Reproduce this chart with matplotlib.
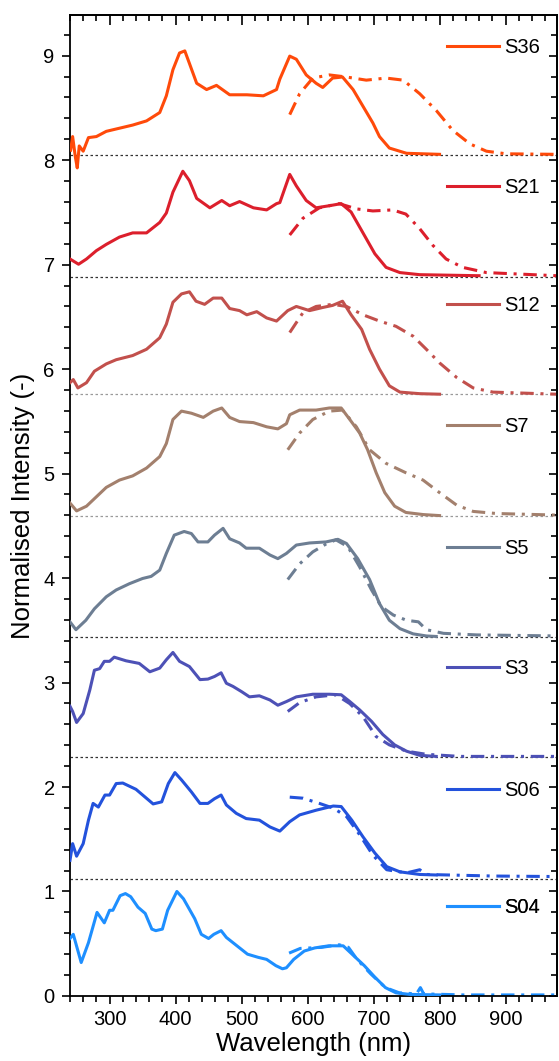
import numpy as np
import matplotlib
matplotlib.use("Agg")
import matplotlib.pyplot as plt
from matplotlib.ticker import MultipleLocator, NullFormatter
from matplotlib.lines import Line2D

plt.rcParams['font.family'] = ['Liberation Sans', 'DejaVu Sans']

names = ["S36", "S21", "S12", "S7", "S5", "S3", "S06", "S04"]
offsets = [8.046, 6.884, 5.76, 4.598, 3.436, 2.283, 1.118, 0.0]
colors = ["#ff4a0a", "#dc1f2c", "#c2504c", "#a3806d", "#6d7e93", "#4d51b6", "#2352dc", "#1e8fff"]

# solid spectra (normalised, before offset)
s36_x = [241, 244, 248, 251, 254, 260, 268, 280, 295, 315, 335, 356, 376, 386, 396, 406, 414, 421,
         432, 447, 462, 482, 508, 533, 553, 558, 573, 583, 598, 613, 623, 638, 653, 669, 684, 699,
         709, 724, 750, 775, 800]
s36_y = [0.05, 0.18, -0.01, -0.12, 0.09, 0.04, 0.17, 0.18, 0.23, 0.26, 0.29, 0.33, 0.41, 0.57,
         0.82, 0.98, 1.0, 0.88, 0.69, 0.63, 0.67, 0.58, 0.58, 0.57, 0.63, 0.73, 0.95, 0.92, 0.77,
         0.69, 0.65, 0.74, 0.75, 0.63, 0.47, 0.31, 0.18, 0.07, 0.02, 0.015, 0.01]

s21_x = [240, 253, 265, 280, 295, 315, 335, 356, 376, 386, 396, 411, 421, 432, 452, 470, 482, 497,
         518, 538, 553, 558, 573, 583, 598, 613, 633, 651, 666, 684, 702, 719, 740, 770, 860]
s21_y = [0.17, 0.12, 0.17, 0.25, 0.31, 0.38, 0.42, 0.42, 0.52, 0.61, 0.81, 1.01, 0.92, 0.75,
         0.66, 0.73, 0.68, 0.72, 0.66, 0.64, 0.70, 0.71, 0.98, 0.87, 0.73, 0.66, 0.68, 0.70,
         0.62, 0.42, 0.22, 0.09, 0.04, 0.02, 0.01]

s12_x = [240, 245, 252, 265, 277, 295, 310, 335, 356, 376, 386, 396, 409, 421, 431, 444, 457, 470,
         482, 497, 508, 523, 538, 553, 570, 583, 603, 623, 638, 653, 666, 682, 694, 709, 724, 740,
         770, 800]
s12_y = [0.11, 0.14, 0.06, 0.11, 0.22, 0.29, 0.33, 0.37, 0.43, 0.54, 0.67, 0.88, 0.96, 0.98,
         0.89, 0.86, 0.92, 0.92, 0.82, 0.80, 0.76, 0.79, 0.73, 0.70, 0.80, 0.84, 0.80, 0.83,
         0.85, 0.89, 0.76, 0.62, 0.43, 0.24, 0.08, 0.02, 0.005, 0.0]

s7_x = [240, 250, 265, 280, 295, 315, 335, 356, 376, 386, 396, 409, 424, 442, 457, 470, 482, 497,
        518, 538, 555, 568, 573, 588, 613, 633, 651, 664, 679, 691, 704, 717, 732, 749, 775, 800]
s7_y = [0.12, 0.045, 0.09, 0.18, 0.27, 0.34, 0.38, 0.455, 0.565, 0.69, 0.92, 1.0, 0.98, 0.94,
        1.0, 1.03, 0.94, 0.90, 0.89, 0.85, 0.83, 0.88, 0.965, 1.01, 1.01, 1.03, 1.03, 0.92,
        0.79, 0.63, 0.41, 0.22, 0.09, 0.03, 0.01, 0.0]

s5_x = [240, 249, 264, 277, 295, 310, 330, 350, 363, 376, 386, 398, 413, 424, 434, 449, 459, 472,
        482, 497, 507, 527, 543, 555, 568, 583, 603, 628, 646, 659, 676, 694, 709, 724, 740, 760,
        780, 795]
s5_y = [0.145, 0.07, 0.16, 0.27, 0.385, 0.45, 0.51, 0.56, 0.58, 0.64, 0.80, 0.975, 1.01, 0.99,
        0.91, 0.91, 0.975, 1.04, 0.94, 0.90, 0.85, 0.85, 0.785, 0.75, 0.80, 0.88, 0.90, 0.91,
        0.935, 0.895, 0.75, 0.55, 0.32, 0.16, 0.08, 0.03, 0.01, 0.005]

s3_x = [240, 244, 250, 260, 270, 277, 285, 292, 300, 307, 325, 345, 361, 376, 386, 396, 406, 421,
        437, 449, 459, 469, 477, 487, 500, 512, 527, 543, 555, 568, 583, 608, 633, 651, 664, 679,
        697, 714, 732, 750, 770, 795]
s3_y = [0.49, 0.44, 0.335, 0.42, 0.645, 0.835, 0.85, 0.92, 0.92, 0.96, 0.925, 0.90, 0.82, 0.855,
        0.935, 1.005, 0.92, 0.87, 0.745, 0.75, 0.775, 0.81, 0.71, 0.68, 0.63, 0.58, 0.59, 0.55,
        0.50, 0.535, 0.58, 0.605, 0.605, 0.60, 0.535, 0.455, 0.345, 0.22, 0.12, 0.06, 0.02, 0.01]

s06_x = [240, 244, 250, 260, 268, 275, 283, 293, 300, 310, 320, 340, 353, 366, 379, 389, 399, 409,
         424, 437, 449, 459, 469, 477, 492, 507, 527, 543, 558, 573, 588, 613, 639, 651, 667, 684,
         702, 720, 740, 770, 795]
s06_y = [0.18, 0.34, 0.22, 0.34, 0.565, 0.725, 0.69, 0.805, 0.805, 0.915, 0.92, 0.86, 0.79, 0.72,
         0.74, 0.915, 1.02, 0.95, 0.835, 0.725, 0.725, 0.77, 0.805, 0.71, 0.63, 0.58, 0.565, 0.50,
         0.46, 0.55, 0.615, 0.66, 0.70, 0.695, 0.565, 0.405, 0.25, 0.12, 0.07, 0.045, 0.04]

s04_x = [240, 245, 257, 268, 281, 292, 300, 305, 316, 324, 332, 343, 354, 364, 370, 380, 388, 402,
         412, 429, 439, 450, 458, 469, 477, 493, 509, 525, 538, 552, 562, 568, 579, 595, 611, 632,
         654, 670, 686, 702, 718, 734, 755, 800]
s04_y = [0.55, 0.59, 0.32, 0.51, 0.80, 0.70, 0.82, 0.82, 0.96, 0.98, 0.95, 0.85, 0.79, 0.64,
         0.625, 0.64, 0.82, 1.0, 0.93, 0.74, 0.59, 0.55, 0.59, 0.625, 0.56, 0.48, 0.40, 0.37,
         0.35, 0.29, 0.26, 0.27, 0.35, 0.43, 0.46, 0.48, 0.48, 0.385, 0.29, 0.18, 0.08, 0.03,
         0.015, 0.01]

# dash-dot spectra (normalised, before offset)
s36_dx = [573, 588, 608, 633, 659, 689, 719, 745, 770, 795, 820, 846, 871, 901, 977]
s36_dy = [0.39, 0.59, 0.74, 0.77, 0.75, 0.72, 0.74, 0.72, 0.59, 0.43, 0.24, 0.11, 0.04, 0.015, 0.01]

s21_dx = [573, 593, 618, 648, 674, 699, 729, 749, 770, 790, 810, 835, 871, 977]
s21_dy = [0.40, 0.56, 0.66, 0.70, 0.65, 0.63, 0.64, 0.60, 0.46, 0.30, 0.17, 0.09, 0.04, 0.01]

s12_dx = [573, 593, 613, 638, 659, 684, 709, 734, 760, 780, 800, 826, 851, 881, 977]
s12_dy = [0.59, 0.78, 0.84, 0.86, 0.84, 0.76, 0.70, 0.65, 0.555, 0.43, 0.30, 0.16, 0.06, 0.02, 0.0]

s7_dx = [570, 588, 608, 633, 653, 674, 694, 719, 749, 775, 800, 826, 851, 886, 977]
s7_dy = [0.63, 0.79, 0.92, 1.0, 1.01, 0.85, 0.63, 0.50, 0.41, 0.34, 0.22, 0.10, 0.04, 0.02, 0.005]

s5_dx = [570, 588, 608, 628, 643, 661, 679, 697, 712, 730, 750, 768, 780, 806, 856, 977]
s5_dy = [0.55, 0.70, 0.815, 0.89, 0.93, 0.865, 0.67, 0.45, 0.29, 0.21, 0.16, 0.145, 0.07,
         0.035, 0.02, 0.01]

s3_dx = [570, 588, 613, 643, 664, 684, 704, 724, 750, 780, 831, 977]
s3_dy = [0.44, 0.525, 0.58, 0.60, 0.515, 0.39, 0.20, 0.12, 0.06, 0.03, 0.01, 0.01]

s06_dx = [573, 593, 618, 639, 659, 679, 699, 720, 750, 770, 780, 881, 977]
s06_dy = [0.785, 0.775, 0.725, 0.68, 0.60, 0.425, 0.23, 0.09, 0.06, 0.09, 0.045, 0.03, 0.025]

s04_dx = [572, 589, 621, 648, 662, 675, 696, 718, 739, 765, 771, 776, 836, 975]
s04_dy = [0.41, 0.455, 0.465, 0.49, 0.465, 0.35, 0.21, 0.08, 0.03, 0.02, 0.08, 0.02, 0.01, 0.01]

solid = [(s36_x, s36_y), (s21_x, s21_y), (s12_x, s12_y), (s7_x, s7_y),
         (s5_x, s5_y), (s3_x, s3_y), (s06_x, s06_y), (s04_x, s04_y)]
dashdot = [(s36_dx, s36_dy), (s21_dx, s21_dy), (s12_dx, s12_dy), (s7_dx, s7_dy),
           (s5_dx, s5_dy), (s3_dx, s3_dy), (s06_dx, s06_dy), (s04_dx, s04_dy)]

fig = plt.figure(figsize=(5.59, 10.61), dpi=100)
ax = fig.add_axes([0.1252, 0.0613, 0.8712, 0.9246])

dd_style = (0, (4.4, 2.2, 1.0, 2.2))
for i, name in enumerate(names):
    off = offsets[i]
    base_col = "#9a9a9a" if name in ("S12", "S7") else "#333333"
    if off > 0:
        ax.axhline(off, color=base_col, lw=0.9, ls=(0, (2.0, 2.0)), zorder=1)
    x, y = solid[i]
    ax.plot(x, np.array(y) + off, color=colors[i], lw=2.2, zorder=3,
            solid_joinstyle='round')
    dx, dy = dashdot[i]
    ax.plot(dx, np.array(dy) + off, color=colors[i], lw=2.2, ls=dd_style, zorder=2)

    # one small legend per panel, upper right of each trace
    rise = 1.03 if i == 0 else 0.85
    h = Line2D([], [], color=colors[i], lw=2.2)
    leg = ax.legend([h], [name], loc='center left', bbox_to_anchor=(812, off + rise),
                    bbox_transform=ax.transData, frameon=False, fontsize=14.5,
                    handlelength=2.55, handletextpad=0.25, borderpad=0, borderaxespad=0)
    ax.add_artist(leg)

ax.set_xlim(240, 978)
ax.set_ylim(0, 9.39)
ax.xaxis.set_major_locator(MultipleLocator(100))
ax.xaxis.set_minor_locator(MultipleLocator(20))
ax.yaxis.set_major_locator(MultipleLocator(1))
ax.yaxis.set_minor_locator(MultipleLocator(0.2))

ax.tick_params(axis='both', which='both', labelsize=14.5, width=1.2, direction='out')
ax.tick_params(axis='both', which='major', length=6)
ax.tick_params(axis='both', which='minor', length=4)
ax.tick_params(axis='x', pad=4)
ax.tick_params(axis='y', pad=5)

# inward ticks on top and right, no labels
top = ax.secondary_xaxis('top')
top.xaxis.set_major_locator(MultipleLocator(100))
top.xaxis.set_minor_locator(MultipleLocator(20))
top.xaxis.set_major_formatter(NullFormatter())
top.tick_params(which='both', direction='in', width=1.2)
top.tick_params(which='major', length=7)
top.tick_params(which='minor', length=4)
right = ax.secondary_yaxis('right')
right.yaxis.set_major_locator(MultipleLocator(1))
right.yaxis.set_minor_locator(MultipleLocator(0.2))
right.yaxis.set_major_formatter(NullFormatter())
right.tick_params(which='both', direction='in', width=1.2)
right.tick_params(which='major', length=6)
right.tick_params(which='minor', length=4)

for a in (ax, top, right):
    for s in a.spines.values():
        s.set_linewidth(1.3)

ax.set_xlabel("Wavelength (nm)", fontsize=18.5, labelpad=2)
ax.set_ylabel("Normalised Intensity (-)", fontsize=18.5, labelpad=6)

fig.savefig("out.png", dpi=100)
